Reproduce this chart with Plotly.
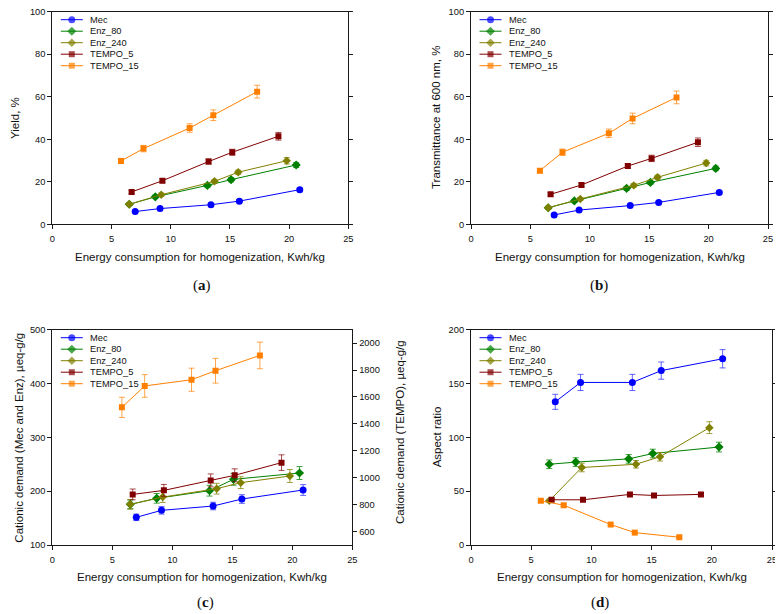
import plotly.graph_objects as go

W, H = 783, 614          # browser window (reference picture) size
OFF = 8                  # default page margin of the html body, compensated below
FW, FH = W - OFF, H - OFF  # figure size so that it fills the window exactly

# ---------------- data ----------------
series_names = ["Mec", "Enz_80", "Enz_240", "TEMPO_5", "TEMPO_15"]

# Energy consumption for homogenization, Kwh/kg
x_mec = [7.0, 9.1, 13.4, 15.8, 20.9]
x_enz80 = [6.5, 8.7, 13.1, 15.1, 20.6]
x_enz240 = [6.5, 9.2, 13.7, 15.7, 19.8]
x_tempo5 = [6.7, 9.3, 13.2, 15.2, 19.1]
x_tempo15 = [5.8, 7.7, 11.6, 13.6, 17.3]

# (a) Yield, %
yield_mec = [6.0, 7.4, 9.2, 10.9, 16.3]
yield_mec_err = [0.5, 0.5, 0.5, 0.6, 0.7]
yield_enz80 = [9.4, 12.9, 18.3, 21.0, 27.9]
yield_enz80_err = [0.6, 0.8, 0.9, 1.0, 1.2]
yield_enz240 = [9.4, 13.9, 20.2, 24.5, 29.9]
yield_enz240_err = [0.6, 0.8, 0.9, 1.0, 1.5]
yield_tempo5 = [15.2, 20.5, 29.5, 33.9, 41.4]
yield_tempo5_err = [0.8, 0.9, 1.2, 1.4, 1.8]
yield_tempo15 = [29.8, 35.6, 45.3, 51.3, 62.4]
yield_tempo15_err = [1.2, 1.5, 2.0, 2.5, 3.0]

# (b) Transmittance at 600 nm, %
trans_mec = [4.4, 6.7, 8.8, 10.3, 15.0]
trans_mec_err = [0.5, 0.5, 0.5, 0.6, 0.7]
trans_enz80 = [7.8, 11.0, 16.9, 19.7, 26.3]
trans_enz80_err = [0.6, 0.7, 0.9, 1.0, 1.1]
trans_enz240 = [7.8, 11.9, 18.3, 22.1, 28.8]
trans_enz240_err = [0.6, 0.7, 0.9, 1.0, 1.3]
trans_tempo5 = [14.1, 18.5, 27.4, 31.0, 38.6]
trans_tempo5_err = [0.8, 0.9, 1.0, 1.5, 2.0]
trans_tempo15 = [25.2, 33.9, 42.8, 49.8, 59.7]
trans_tempo15_err = [1.0, 1.5, 2.0, 2.5, 3.0]

# (c) Cationic demand, ueq-g/g (Mec and Enz on left axis, TEMPO on right axis)
cd_mec = [151.4, 164.4, 172.4, 185.4, 202.2]
cd_mec_err = [6, 7, 7, 8, 10]
cd_enz80 = [175.5, 186.7, 200.9, 222.0, 233.7]
cd_enz80_err = [8, 9, 10, 11, 12]
cd_enz240 = [175.5, 189.0, 204.6, 215.8, 228.2]
cd_enz240_err = [9, 10, 10, 11, 12]
cd_tempo5 = [876, 906, 980, 1018, 1112]
cd_tempo5_err = [40, 44, 48, 48, 58]
cd_tempo15 = [1523, 1682, 1728, 1795, 1909]
cd_tempo15_err = [75, 84, 86, 92, 99]

# (d) Aspect ratio
ar_mec = [133, 151, 151, 162, 173]
ar_mec_err = [7, 7.5, 7.5, 8, 8.5]
ar_enz80 = [75, 77, 80, 85, 91]
ar_enz80_err = [4, 4, 4, 4, 4.5]
ar_enz240 = [41, 72, 75, 82, 109]
ar_enz240_err = [1.5, 4, 3.5, 4, 5.5]
ar_tempo5 = [42, 42, 47, 46, 47]
ar_tempo5_err = [1, 1, 1, 1, 1]
ar_tempo15 = [41, 37, 19, 11.5, 7.2]
ar_tempo15_err = [1, 1, 1, 1, 1]

x_title = "Energy consumption for homogenization, Kwh/kg"

# ---------------- styles ----------------
FONT = "Liberation Sans, Arial, sans-serif"
AX = "#1a1a1a"
style = {
    "Mec": dict(color="#0000FF", err="rgba(60,60,255,0.8)", symbol="circle", size=7),
    "Enz_80": dict(color="#008000", err="rgba(0,128,0,0.75)", symbol="diamond", size=7),
    "Enz_240": dict(color="#808000", err="rgba(128,128,0,0.75)", symbol="diamond", size=6.5),
    "TEMPO_5": dict(color="#800000", err="rgba(128,0,0,0.7)", symbol="square", size=6),
    "TEMPO_15": dict(color="#FF8000", err="rgba(255,128,0,0.7)", symbol="square", size=6),
}

# panel boxes in window pixels: left, top, right, bottom
boxes = {
    "a": (52.3, 11.7, 348.3, 224.3),
    "b": (471.0, 11.7, 768.0, 224.3),
    "c": (52.3, 329.7, 352.3, 545.0),
    "d": (471.0, 329.7, 772.0, 545.0),
}


def px(xp):
    return (xp - OFF) / FW


def py(yp):
    return 1 - (yp - OFF) / FH


# the hidden full-figure axis used for the per-panel legends is x / y (drawn first, below panels)
panel_axes = {"a": ("x2", "y2"), "b": ("x3", "y3"), "c": ("x4", "y4"), "d": ("x5", "y5")}
RIGHT_C = "y6"

panel_data = {
    "a": [
        ("Mec", x_mec, yield_mec, yield_mec_err),
        ("Enz_80", x_enz80, yield_enz80, yield_enz80_err),
        ("Enz_240", x_enz240, yield_enz240, yield_enz240_err),
        ("TEMPO_5", x_tempo5, yield_tempo5, yield_tempo5_err),
        ("TEMPO_15", x_tempo15, yield_tempo15, yield_tempo15_err),
    ],
    "b": [
        ("Mec", x_mec, trans_mec, trans_mec_err),
        ("Enz_80", x_enz80, trans_enz80, trans_enz80_err),
        ("Enz_240", x_enz240, trans_enz240, trans_enz240_err),
        ("TEMPO_5", x_tempo5, trans_tempo5, trans_tempo5_err),
        ("TEMPO_15", x_tempo15, trans_tempo15, trans_tempo15_err),
    ],
    "c": [
        ("Mec", x_mec, cd_mec, cd_mec_err),
        ("Enz_80", x_enz80, cd_enz80, cd_enz80_err),
        ("Enz_240", x_enz240, cd_enz240, cd_enz240_err),
        ("TEMPO_5", x_tempo5, cd_tempo5, cd_tempo5_err),
        ("TEMPO_15", x_tempo15, cd_tempo15, cd_tempo15_err),
    ],
    "d": [
        ("Mec", x_mec, ar_mec, ar_mec_err),
        ("Enz_80", x_enz80, ar_enz80, ar_enz80_err),
        ("Enz_240", x_enz240, ar_enz240, ar_enz240_err),
        ("TEMPO_5", x_tempo5, ar_tempo5, ar_tempo5_err),
        ("TEMPO_15", x_tempo15, ar_tempo15, ar_tempo15_err),
    ],
}

fig = go.Figure()

# ---------------- per-panel legends (on the hidden full-figure axis x/y) ----------------
LEG_DX, LEG_DY, ROW = 8.5, 8.0, 11.5
annotations = []
for p, (l, t, r, b) in boxes.items():
    for i, name in enumerate(series_names):
        st = style[name]
        ry = t + LEG_DY + i * ROW
        x0 = l + LEG_DX
        fig.add_trace(go.Scatter(
            x=[x0, x0 + 11, x0 + 22], y=[ry, ry, ry], mode="lines+markers",
            xaxis="x", yaxis="y", showlegend=False, hoverinfo="skip",
            line=dict(color=st["color"], width=1),
            marker=dict(color=st["color"], symbol=st["symbol"], size=[0, st["size"], 0], line=dict(width=0)),
        ))
        annotations.append(dict(
            x=px(x0 + 27), y=py(ry), xref="paper", yref="paper", xanchor="left", yanchor="middle",
            text=name, showarrow=False, font=dict(family=FONT, size=9.3, color="#111"),
        ))

# ---------------- data traces ----------------
for p, rows in panel_data.items():
    xa, ya = panel_axes[p]
    for name, xs, ys, es in rows:
        st = style[name]
        yref = ya
        if p == "c" and name.startswith("TEMPO"):
            yref = RIGHT_C
        fig.add_trace(go.Scatter(
            x=xs, y=ys, name=name, mode="lines+markers",
            xaxis=xa, yaxis=yref, showlegend=False,
            line=dict(color=st["color"], width=1),
            marker=dict(color=st["color"], symbol=st["symbol"], size=st["size"], line=dict(width=0)),
            error_y=dict(type="data", array=es, visible=True, color=st["err"], thickness=1, width=3),
        ))

# ---------------- axes ----------------
tickfont = dict(family=FONT, size=9.3, color="#111")


def xaxis_cfg(p, anchor):
    l, t, r, b = boxes[p]
    return dict(domain=[px(l), px(r)], anchor=anchor, range=[0, 25], tick0=0, dtick=5,
                ticks="outside", ticklen=4, tickwidth=1, tickcolor=AX, ticklabelstandoff=2,
                ticklabeloverflow="allow",
                showline=True, linecolor=AX, linewidth=1, mirror=True,
                showgrid=False, zeroline=False, tickfont=tickfont, automargin=False)


def yaxis_cfg(p, anchor, rng, dtick, mirror="ticks"):
    l, t, r, b = boxes[p]
    return dict(domain=[py(b), py(t)], anchor=anchor, range=rng, tick0=0, dtick=dtick,
                ticks="outside", ticklen=4, tickwidth=1, tickcolor=AX,
                ticklabeloverflow="allow",
                showline=True, linecolor=AX, linewidth=1, mirror=mirror,
                showgrid=False, zeroline=False, tickfont=tickfont, automargin=False)


fig.update_layout(
    xaxis=dict(domain=[0, 1], anchor="y", range=[OFF, W], visible=False, fixedrange=True),
    yaxis=dict(domain=[0, 1], anchor="x", range=[H, OFF], visible=False, fixedrange=True),
    xaxis2=xaxis_cfg("a", "y2"),
    yaxis2=yaxis_cfg("a", "x2", [0, 100], 20),
    xaxis3=xaxis_cfg("b", "y3"),
    yaxis3=yaxis_cfg("b", "x3", [0, 100], 20),
    xaxis4=xaxis_cfg("c", "y4"),
    yaxis4=yaxis_cfg("c", "x4", [100, 500], 100, mirror=False),
    xaxis5=xaxis_cfg("d", "y5"),
    yaxis5=yaxis_cfg("d", "x5", [0, 200], 50),
    yaxis6=dict(overlaying="y4", side="right", anchor="x4", range=[500, 2100], tick0=0, dtick=200,
                ticks="outside", ticklen=4, tickwidth=1, tickcolor=AX,
                ticklabeloverflow="allow",
                showline=True, linecolor=AX, linewidth=1,
                showgrid=False, zeroline=False, tickfont=tickfont, automargin=False),
)

# ---------------- titles ----------------
title_font = dict(family=FONT, size=11.5, color="#111")
for p, (l, t, r, b) in boxes.items():
    annotations.append(dict(x=px((l + r) / 2), y=py(b + 32.4), xref="paper", yref="paper",
                            xanchor="center", yanchor="middle", text=x_title,
                            showarrow=False, font=title_font))

y_titles = [
    ("a", 15.0, "Yield, %"),
    ("b", 436.0, "Transmittance at 600 nm, %"),
    ("c", 19.3, "Cationic demand (Mec and Enz), µeq-g/g"),
    ("d", 437.0, "Aspect ratio"),
]
for p, xc, txt in y_titles:
    l, t, r, b = boxes[p]
    annotations.append(dict(x=px(xc), y=py((t + b) / 2), xref="paper", yref="paper",
                            xanchor="center", yanchor="middle", text=txt, textangle=-90,
                            showarrow=False, font=title_font))

# right-axis title of panel (c)
annotations.append(dict(x=px(400.0), y=py(432.0), xref="paper", yref="paper",
                        xanchor="center", yanchor="middle", text="Cationic demand (TEMPO), µeq-g/g",
                        textangle=-90, showarrow=False, font=title_font))

# panel letters
letters = [("a", 202, 285), ("b", 599, 285), ("c", 205, 602), ("d", 600, 602)]
for lab, xc, yc in letters:
    annotations.append(dict(x=px(xc), y=py(yc), xref="paper", yref="paper",
                            xanchor="center", yanchor="middle", text=f"(<b>{lab}</b>)",
                            showarrow=False,
                            font=dict(family="Liberation Serif, Times New Roman, serif", size=15, color="#111")))

fig.update_layout(
    width=FW, height=FH, margin=dict(l=0, r=0, t=0, b=0),
    paper_bgcolor="white", plot_bgcolor="rgba(0,0,0,0)",
    showlegend=False, annotations=annotations,
    font=dict(family=FONT, color="#111"),
)

fig.write_html("out.html")
